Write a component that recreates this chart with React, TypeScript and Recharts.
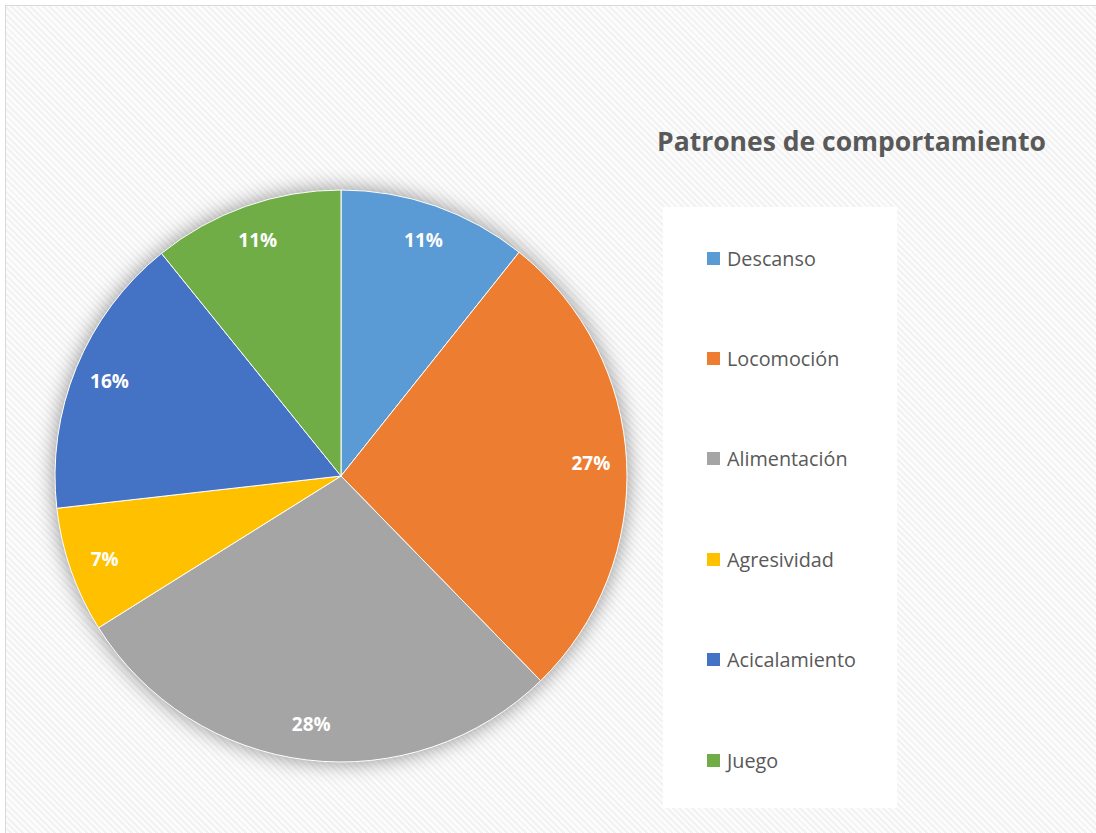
import { PieChart, Pie, Cell } from "recharts";

const categories = ["Descanso", "Locomoción", "Alimentación", "Agresividad", "Acicalamiento", "Juego"];
const shares = [10.7, 27.0, 28.4, 7.1, 16.0, 10.8];
const colors = ["#5B9BD5", "#ED7D31", "#A5A5A5", "#FFC000", "#4472C4", "#70AD47"];

const data = categories.map((name, i) => ({ name, value: shares[i] }));

const FONT = "'Open Sans', Lato, sans-serif";
const RAD = Math.PI / 180;

function renderLabel(props: any) {
  const { cx, cy, midAngle, outerRadius, percent } = props;
  const r = outerRadius * 0.875;
  const x = cx + r * Math.cos(-midAngle * RAD);
  const y = cy + r * Math.sin(-midAngle * RAD);
  return (
    <text
      x={x}
      y={y}
      fill="#fff"
      fontFamily={FONT}
      fontWeight={700}
      fontSize={19}
      textAnchor="middle"
      dominantBaseline="central"
    >
      {`${Math.round(percent * 100)}%`}
    </text>
  );
}

function LegendBox() {
  return (
    <div
      style={{
        position: "absolute",
        left: 663,
        top: 207,
        background: "#fff",
        width: 234,
        height: 601,
        fontFamily: FONT,
      }}
    >
      {data.map((d, i) => (
        <div
          key={d.name}
          style={{
            position: "absolute",
            left: 44,
            top: 51 + i * 100.4 - 14,
            height: 28,
            display: "flex",
            alignItems: "center",
            whiteSpace: "nowrap",
          }}
        >
          <span style={{ width: 13, height: 13, background: colors[i], display: "inline-block", marginRight: 7 }} />
          <span style={{ fontSize: 19.8, color: "#595959" }}>{d.name}</span>
        </div>
      ))}
    </div>
  );
}

export default function App() {
  return (
    <div
      style={{
        position: "absolute",
        left: 0,
        top: 0,
        width: 1096,
        height: 833,
        overflow: "hidden",
        background: "#fff",
      }}
    >
      <div
        style={{
          position: "absolute",
          left: 5,
          top: 5,
          width: 1100,
          height: 840,
          border: "1px solid #d9d9d9",
          backgroundColor: "#fff",
          backgroundImage:
            "repeating-linear-gradient(45deg, #fcfcfc 0px, #fcfcfc 2.5px, #f2f2f2 2.5px, #f2f2f2 4.5px)",
        }}
      />
      <div
        style={{
          position: "absolute",
          left: 657,
          top: 123,
          fontFamily: FONT,
          fontWeight: 700,
          fontSize: 26.5,
          color: "#595959",
          whiteSpace: "nowrap",
        }}
      >
        Patrones de comportamiento
      </div>
      <LegendBox />
      <div style={{ position: "absolute", left: 0, top: 0 }}>
        <PieChart width={1096} height={833} margin={{ top: 0, right: 0, bottom: 0, left: 0 }}>
          <Pie
            data={data}
            dataKey="value"
            nameKey="name"
            cx={341}
            cy={476}
            outerRadius={287}
            startAngle={90}
            endAngle={-270}
            stroke="none"
            isAnimationActive={false}
          >
            {data.map((d) => (
              <Cell key={d.name} fill="#000" fillOpacity={0.4} style={{ filter: "blur(10px)" }} />
            ))}
          </Pie>
          <Pie
            data={data}
            dataKey="value"
            nameKey="name"
            cx={341}
            cy={476}
            outerRadius={286}
            startAngle={90}
            endAngle={-270}
            stroke="#fff"
            strokeWidth={1}
            label={renderLabel}
            labelLine={false}
            isAnimationActive={false}
          >
            {data.map((d, i) => (
              <Cell key={d.name} fill={colors[i]} />
            ))}
          </Pie>
        </PieChart>
      </div>
    </div>
  );
}
